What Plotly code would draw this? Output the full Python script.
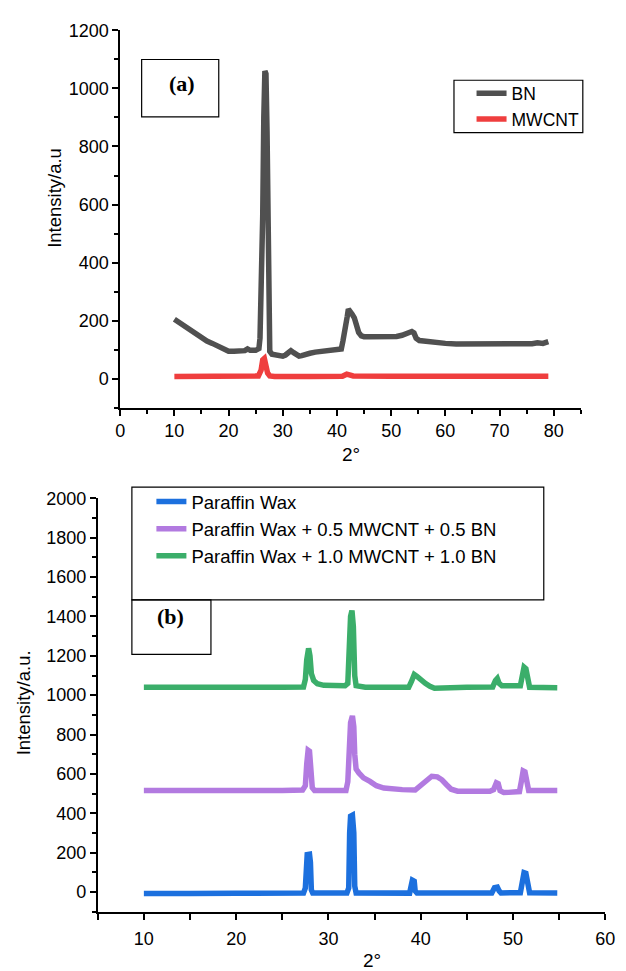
import plotly.graph_objects as go

W, H = 626, 971

# ---------------- Panel (a) data ----------------
bn_x = [10.0, 11.0, 12.0, 13.0, 14.0, 15.0, 16.0, 17.0, 18.0, 19.0, 20.0, 21.0, 22.0, 23.0, 23.5, 24.0, 25.0,
        25.6, 25.8, 26.0, 26.15, 26.3, 26.5, 26.7, 26.9, 27.1, 27.25, 27.35, 27.45, 27.6, 28.0, 29.0, 30.0, 30.5,
        31.0, 31.5, 32.0, 32.5, 33.0, 33.5, 34.0, 35.0, 36.0, 37.0, 38.0, 39.0, 40.0, 40.8, 41.1, 41.4, 41.7,
        41.9, 42.1, 42.4, 42.8, 43.2, 43.6, 44.0, 44.5, 45.0, 46.0, 48.0, 50.0, 51.0, 52.0, 53.0, 53.8, 54.2,
        54.6, 55.2, 56.0, 57.0, 58.0, 60.0, 62.0, 64.0, 66.0, 68.0, 70.0, 72.0, 74.0, 76.0, 77.0, 78.0, 79.0]
bn_y = [205, 192, 180, 168, 155, 140, 130, 122, 112, 100, 95, 95, 95, 97, 103, 98, 98,
        104, 140, 260, 330, 560, 900, 1060, 1050, 850, 500, 320, 200, 95, 85, 82, 78, 82,
        88, 97, 90, 82, 78, 80, 84, 88, 92, 94, 96, 98, 100, 103, 130, 175, 190,
        215, 240, 235, 222, 210, 185, 160, 148, 145, 145, 145, 145, 146, 150, 157, 163, 158,
        140, 132, 130, 127, 125, 122, 120, 120, 119, 118, 118, 120, 121, 121, 124, 122, 128]

mw_x = [10, 15, 20, 24, 25.5, 26.0, 26.3, 26.6, 26.9, 27.2, 27.6, 28.5, 35, 41, 41.8, 42.3, 43,
        50, 54.5, 55, 55.6, 65, 70, 76, 77, 79]
mw_y = [8, 8, 8, 8, 10, 30, 65, 70, 45, 20, 10, 8, 8, 9, 16, 12, 10,
        9, 9, 12, 9, 8, 8, 9, 10, 9]

# ---------------- Panel (b) data ----------------
pw_x = [10, 12, 15, 20, 25, 27.3, 27.5, 27.6, 27.7, 27.95, 28.05, 28.15, 28.3, 32.0, 32.2, 32.3, 32.4,
        32.6, 32.75, 32.85, 33.0, 38.8, 38.95, 39.1, 39.3, 39.4, 39.6, 45, 47.7, 48.0, 48.3, 48.5, 48.7,
        50.8, 51.0, 51.2, 51.4, 51.6, 51.8, 54.8]
pw_y = [-8, -6, -8, -7, -8, -6, 20, 150, 190, 192, 150, 10, -6, -6, 20, 300, 385,
        390, 300, 30, -5, -6, 40, 60, 55, 5, -6, -10, -5, 22, 25, 5, -5,
        -4, 60, 98, 95, 30, -4, -5]

p05_x = [10, 15, 20, 25, 27.2, 27.5, 27.65, 27.8, 27.95, 28.1, 28.25, 28.5, 29.5, 31.9, 32.1, 32.25,
         32.4, 32.6, 32.75, 32.85, 33.0, 33.3, 33.8, 34.5, 35.2, 36.0, 37.0, 38.0, 39.4, 40.0, 40.6,
         41.2, 41.8, 42.3, 42.8, 43.3, 44.0, 45.0, 46.0, 47.5, 47.9, 48.2, 48.4, 48.6, 49.0, 49.5,
         50.7, 50.9, 51.1, 51.3, 51.5, 51.7, 53, 54.8]
p05_y = [515, 513, 515, 515, 518, 540, 650, 720, 715, 600, 530, 515, 513, 515, 560, 800,
         860, 895, 840, 700, 625, 605, 580, 562, 540, 528, 522, 520, 518, 540, 570,
         588, 585, 570, 545, 522, 512, 510, 512, 512, 520, 555, 550, 515, 505, 506,
         510, 560, 615, 610, 540, 515, 515, 515]

p10_x = [10, 15, 20, 25, 27.3, 27.5, 27.65, 27.85, 28.0, 28.15, 28.4, 28.8, 29.5, 31.8, 32.1, 32.25,
         32.4, 32.55, 32.7, 32.85, 33.0, 34, 38.7, 39.0, 39.3, 39.6, 40.0, 40.5, 41.0, 41.5, 45, 47.8,
         48.1, 48.3, 48.5, 48.8, 50.8, 51.0, 51.2, 51.4, 51.6, 51.8, 54.8]
p10_y = [1040, 1038, 1040, 1040, 1042, 1080, 1180, 1238, 1200, 1110, 1075, 1058, 1050, 1048, 1060, 1250,
         1400, 1430, 1350, 1100, 1048, 1040, 1040, 1070, 1105, 1095, 1075, 1060, 1045, 1035, 1040, 1042,
         1075, 1085, 1060, 1048, 1048, 1100, 1143, 1135, 1060, 1040, 1038]

a_xticks = [0, 10, 20, 30, 40, 50, 60, 70, 80]
a_yticks = [0, 200, 400, 600, 800, 1000, 1200]
b_xticks = [10, 20, 30, 40, 50, 60]
b_yticks = [0, 200, 400, 600, 800, 1000, 1200, 1400, 1600, 1800, 2000]

# ---------------- helpers (pixel -> paper) ----------------
def px(x):
    return x / W

def py(y):
    return 1 - y / H

FONT = "Liberation Sans, Arial, sans-serif"
SERIF = "Liberation Serif, Times New Roman, serif"
LW = 5.5
TICKSIZE = 18

fig = go.Figure()

fig.add_trace(go.Scatter(x=bn_x, y=bn_y, mode="lines", name="BN",
                         line=dict(color="rgb(80,80,80)", width=LW),
                         xaxis="x", yaxis="y", legend="legend"))
fig.add_trace(go.Scatter(x=mw_x, y=mw_y, mode="lines", name="MWCNT",
                         line=dict(color="rgb(239,62,62)", width=LW),
                         xaxis="x", yaxis="y", legend="legend"))

fig.add_trace(go.Scatter(x=pw_x, y=pw_y, mode="lines", name="Paraffin Wax",
                         line=dict(color="rgb(28,112,222)", width=LW),
                         xaxis="x2", yaxis="y2", legend="legend2"))
fig.add_trace(go.Scatter(x=p05_x, y=p05_y, mode="lines", name="Paraffin Wax + 0.5 MWCNT + 0.5 BN",
                         line=dict(color="rgb(178,122,224)", width=LW),
                         xaxis="x2", yaxis="y2", legend="legend2"))
fig.add_trace(go.Scatter(x=p10_x, y=p10_y, mode="lines", name="Paraffin Wax + 1.0 MWCNT + 1.0 BN",
                         line=dict(color="rgb(59,174,106)", width=LW),
                         xaxis="x2", yaxis="y2", legend="legend2"))

axis_common = dict(showline=True, linecolor="black", linewidth=1.8, ticks="outside",
                   ticklen=6, tickwidth=1.5, tickcolor="black", showgrid=False, zeroline=False,
                   tickfont=dict(family=FONT, size=TICKSIZE, color="black"), mirror=False)

fig.update_layout(
    width=W, height=H, margin=dict(l=0, r=0, t=0, b=0),
    paper_bgcolor="white", plot_bgcolor="white",
    showlegend=True,
    xaxis=dict(domain=[px(118), px(590)], range=[0, 85], anchor="y", tickvals=a_xticks,
               minor=dict(dtick=5, tick0=0, ticks="outside", ticklen=4, tickwidth=1.5, tickcolor="black"),
               **axis_common),
    yaxis=dict(domain=[py(402), py(20.5)], range=[-100, 1200], anchor="x", tickvals=a_yticks,
               minor=dict(dtick=100, tick0=0, ticks="outside", ticklen=4, tickwidth=1.5, tickcolor="black"),
               **axis_common),
    xaxis2=dict(domain=[px(95), px(615)], range=[5, 60], anchor="y2", tickvals=b_xticks,
                ticklabelstandoff=4,
                minor=dict(dtick=5, tick0=0, ticks="outside", ticklen=6, tickwidth=1.5, tickcolor="black"),
                **axis_common),
    yaxis2=dict(domain=[py(911), py(493.5)], range=[-100, 2000], anchor="x2", tickvals=b_yticks,
                minor=dict(dtick=100, tick0=0, ticks="outside", ticklen=4, tickwidth=1.5, tickcolor="black"),
                **axis_common),
    legend=dict(x=px(478), y=py(66), xanchor="left", yanchor="top", bgcolor="rgba(0,0,0,0)",
                borderwidth=0, font=dict(family=FONT, size=17.5, color="black"), tracegroupgap=0),
    legend2=dict(x=px(150), y=py(478), xanchor="left", yanchor="top", bgcolor="rgba(0,0,0,0)",
                 borderwidth=0, font=dict(family=FONT, size=18.5, color="black"), tracegroupgap=0),
)

# boxes (legend frames and panel labels)
shapes = [
    dict(x0=px(460), x1=px(592), y0=py(71), y1=py(124)),
    dict(x0=px(140), x1=px(219), y0=py(50), y1=py(108)),
    dict(x0=px(130), x1=px(552), y0=py(482), y1=py(596)),
    dict(x0=px(130), x1=px(211), y0=py(596), y1=py(651)),
]
for s in shapes:
    fig.add_shape(type="rect", xref="paper", yref="paper", line=dict(color="black", width=1.2),
                  fillcolor="rgba(0,0,0,0)", **s)

ann = [
    dict(x=px(181), y=py(74), text="<b>(a)</b>", font=dict(family=SERIF, size=22, color="black")),
    dict(x=px(170), y=py(613), text="<b>(b)</b>", font=dict(family=SERIF, size=22, color="black")),
    dict(x=px(354), y=py(449), text="2°", font=dict(family=FONT, size=19, color="black")),
    dict(x=px(376), y=py(960), text="2°", font=dict(family=FONT, size=19, color="black")),
    dict(x=px(50), y=py(190), text="Intensity/a.u", textangle=-90, font=dict(family=FONT, size=18.5, color="black")),
    dict(x=px(19), y=py(700), text="Intensity/a.u.", textangle=-90, font=dict(family=FONT, size=18.5, color="black")),
]
for a in ann:
    fig.add_annotation(xref="paper", yref="paper", showarrow=False, xanchor="center", yanchor="middle", **a)

fig.write_html("out.html", config={"displayModeBar": False},
               post_script="document.body.style.margin='0px';")
